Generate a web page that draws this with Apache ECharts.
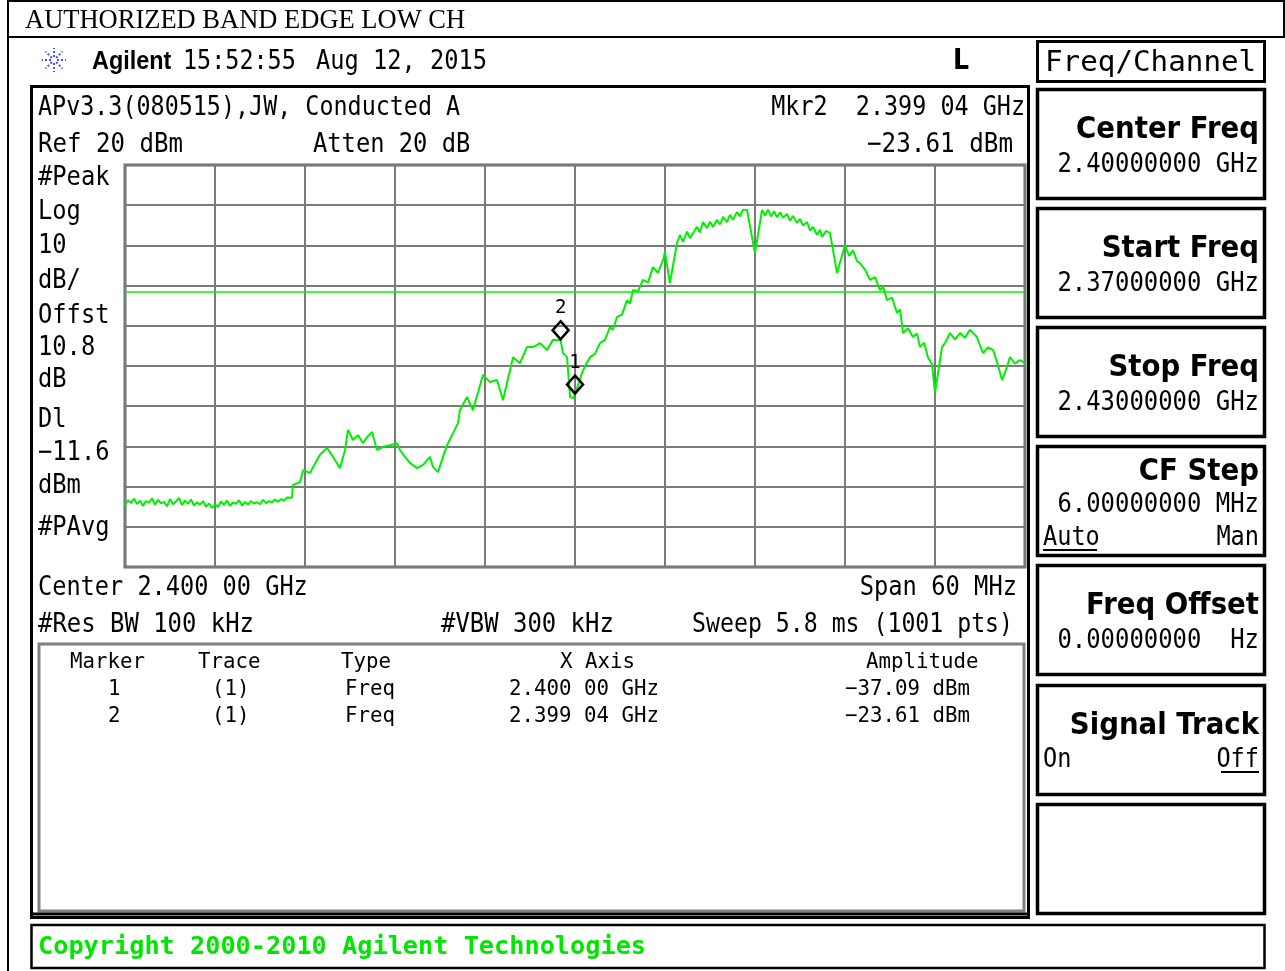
<!DOCTYPE html>
<html>
<head>
<meta charset="utf-8">
<script src="https://cdn.jsdelivr.net/npm/echarts@6/dist/echarts.min.js"></script>
<style>
html,body{margin:0;padding:0;background:#fff;}
#chart{width:1285px;height:971px;}
</style>
</head>
<body>
<div id="chart"></div>
<script>
// ---- Data (frequency in MHz, level in dBm) ----
const freqMHz = [
2370.0,2370.2,2370.4,2370.6,2370.8,2371.0,2371.2,2371.4,2371.6,2371.8,
2372.0,2372.2,2372.4,2372.6,2372.8,2373.0,2373.2,2373.4,2373.6,2373.8,
2374.0,2374.2,2374.4,2374.6,2374.8,2375.0,2375.2,2375.4,2375.6,2375.8,
2376.0,2376.2,2376.4,2376.6,2376.8,2377.0,2377.2,2377.4,2377.6,2377.8,
2378.0,2378.2,2378.4,2378.6,2378.8,2379.0,2379.2,2379.4,2379.6,2379.8,
2380.0,2380.2,2380.4,2380.6,2380.8,
2381.13,2381.20,2381.67,2381.87,2382.33,2382.80,2383.00,2383.47,2383.87,2384.33,
2384.67,2384.87,2385.20,2385.53,2385.87,2386.13,2386.47,2386.80,2387.20,2387.67,
2388.13,2388.33,2388.67,2389.00,2389.47,2389.87,2390.33,2390.53,2390.87,2391.20,
2391.47,2391.87,2392.20,2392.33,2392.80,2393.20,2393.87,2394.33,2394.80,2395.20,
2395.87,2396.33,2396.80,2397.20,2397.67,2398.13,2398.53,2399.04,2399.20,2399.47,
2399.67,2399.87,2400.00,2400.47,2400.73,2401.00,2401.33,2401.67,2402.00,2402.33,
2402.53,2402.80,2403.13,2403.47,2403.67,2403.87,2404.20,2404.53,2404.87,2405.20,
2405.53,2405.87,2406.00,2406.33,2406.80,2407.00,2407.20,2407.47,2407.67,2407.87,
2408.13,2408.33,2408.53,2408.80,2409.00,2409.20,2409.47,2409.67,2409.87,2410.13,
2410.33,2410.53,2410.80,2411.00,2411.20,2411.47,2412.00,2412.47,2412.67,2412.87,
2413.07,2413.27,2413.47,2413.67,2413.87,2414.13,2414.33,2414.53,2414.80,2415.00,
2415.20,2415.47,2415.67,2415.87,2416.13,2416.33,2416.47,2416.73,2417.00,2417.47,
2418.00,2418.27,2418.53,2418.80,2419.00,2419.33,2419.67,2420.00,2420.33,2420.53,
2420.80,2421.13,2421.47,2421.67,2421.87,2422.20,2422.53,2422.80,2423.00,2423.27,
2423.53,2423.80,2424.00,2424.47,2424.73,2425.00,2425.33,2425.67,2426.00,2426.33,
2426.80,2427.00,2427.20,2427.53,2427.87,2428.13,2428.47,2428.73,2429.00,2429.33,
2429.67,2430.00
];
const levelDbm = [
-64.6,-63.4,-64.1,-63.0,-64.3,-63.5,-64.8,-63.6,-64.0,-62.9,
-64.5,-63.3,-64.2,-63.8,-64.9,-63.1,-64.4,-63.7,-62.8,-64.6,
-63.5,-64.3,-63.2,-64.7,-63.9,-64.5,-63.6,-65.0,-64.2,-65.3,
-64.4,-65.1,-63.7,-64.6,-63.5,-64.8,-63.9,-64.3,-63.4,-64.7,
-63.8,-64.5,-63.6,-64.2,-63.9,-64.4,-63.3,-64.1,-63.6,-63.9,
-63.2,-63.8,-63.1,-63.5,-62.7,
-62.8,-59.6,-58.9,-55.9,-56.6,-53.4,-52.1,-50.4,-52.6,-55.4,
-50.9,-45.9,-48.4,-47.2,-49.2,-47.7,-46.4,-50.9,-50.1,-49.7,
-49.2,-50.9,-52.6,-54.1,-55.4,-54.6,-52.6,-55.1,-56.4,-52.6,
-49.7,-46.7,-44.2,-41.0,-37.7,-41.0,-32.2,-34.0,-33.5,-38.5,
-27.8,-29.3,-25.3,-25.3,-24.3,-26.0,-23.5,-23.61,-26.8,-27.8,
-37.7,-38.0,-37.09,-31.7,-29.6,-27.8,-27.0,-24.3,-23.5,-20.3,
-21.0,-17.8,-17.2,-13.6,-14.5,-11.1,-11.5,-8.6,-9.2,-5.4,
-6.8,-3.6,-1.6,-9.4,0.6,2.6,0.9,3.4,1.8,3.1,
4.6,3.2,5.8,4.3,5.9,4.6,6.4,5.2,7.1,5.8,
7.6,6.4,8.3,7.2,8.9,8.8,-1.9,8.8,7.4,8.9,
7.2,8.5,7.0,8.2,6.9,7.8,6.2,7.3,5.6,6.6,
4.9,5.8,3.7,4.6,2.6,3.9,2.1,3.6,3.1,-6.9,
0.1,-2.6,-1.2,-3.9,-4.4,-6.0,-8.6,-7.9,-11.1,-10.2,
-13.6,-13.0,-16.8,-15.9,-21.8,-20.6,-22.8,-21.9,-25.3,-24.2,
-27.8,-29.5,-36.7,-25.3,-23.9,-21.8,-23.4,-21.8,-23.0,-21.0,
-22.8,-24.9,-26.8,-25.4,-26.0,-28.9,-33.5,-31.0,-27.8,-29.4,
-28.5,-29.3
];
const markerNames = ['1', '2'];
const markerFreqMHz = [2400.00, 2399.04];
const markerLevelDbm = [-37.09, -23.61];
const displayLineDbm = -11.6;
const startMHz = 2370, stopMHz = 2430, freqDivMHz = 6;
const refDbm = 20, bottomDbm = -80, dbPerDiv = 10;

// ---- Text helpers ----
const MONO = '"DejaVu Sans Mono", monospace';
const SANS = '"DejaVu Sans", sans-serif';
function T(x, y, text, o) {
  o = o || {};
  const size = o.size || 27;
  const fam = o.family || MONO;
  const weight = o.weight || 'normal';
  let sx = o.sx;
  if (sx == null && o.adv) sx = o.adv / (0.602 * size);
  const al = o.align || 'left';
  const dy = o.dy == null ? 2 : o.dy;
  return {
    type: 'text', x: x, y: y + dy, scaleX: sx || 1, scaleY: 1, silent: true, z: 10,
    style: {
      text: text, font: weight + ' ' + size + 'px ' + fam, fill: o.color || '#000',
      textAlign: al, align: al, textVerticalAlign: 'middle', verticalAlign: 'middle'
    }
  };
}
function L(x1, y1, x2, y2, w, c) {
  return { type: 'line', silent: true, z: 5, shape: { x1, y1, x2, y2 }, style: { stroke: c || '#000', lineWidth: w || 2 } };
}
function R(x, y, w, h, lw, c) {
  return { type: 'rect', silent: true, z: 5, shape: { x, y, width: w, height: h }, style: { fill: 'none', stroke: c || '#000', lineWidth: lw || 3 } };
}

const G = [];
// page frame and title
G.push(L(8, 1, 1285, 1, 2));
G.push(L(8, 0, 8, 971, 2));
G.push(L(8, 37, 1285, 37, 2));
G.push(L(1284, 0, 1284, 37, 2));
G.push(T(25, 21, 'AUTHORIZED BAND EDGE LOW CH', { size: 26.5, dy: 0, family: '"Liberation Serif", "Times New Roman", serif' }));

// logo starburst
for (let i = 0; i < 8; i++) {
  const a = i * Math.PI / 4;
  G.push({ type: 'line', silent: true, shape: { x1: 54 + 3 * Math.cos(a), y1: 60 + 3 * Math.sin(a), x2: 54 + 12 * Math.cos(a), y2: 60 + 12 * Math.sin(a) },
    style: { stroke: '#3a4cff', lineWidth: 2, lineDash: [2, 2] } });
}
G.push(T(92, 60, 'Agilent', { size: 26, family: '"Liberation Sans", Arial, sans-serif', weight: 'bold', sx: 0.9 }));
G.push(T(183, 60, '15:52:55', { adv: 14.1 }));
G.push(T(316, 60, 'Aug 12, 2015', { adv: 14.25 }));
G.push(T(953, 60, 'L', { size: 28, family: SANS, weight: 'bold', sx: 0.9 }));

// main screen box
G.push(R(31.5, 86.5, 997, 831, 3));
G.push(T(38, 106, 'APv3.3(080515),JW, Conducted A', { adv: 14.07 }));
G.push(T(1025, 106, 'Mkr2  2.399 04 GHz', { adv: 14.1, align: 'right' }));
G.push(T(38, 143, 'Ref 20 dBm', { adv: 14.5 }));
G.push(T(313, 143, 'Atten 20 dB', { adv: 14.3 }));
G.push(T(1013, 143, '\u221223.61 dBm', { adv: 14.6, align: 'right' }));

const leftCol = [['#Peak', 176], ['Log', 210], ['10', 244], ['dB/', 279], ['Offst', 314], ['10.8', 346], ['dB', 378], ['Dl', 418], ['\u221211.6', 451], ['dBm', 484], ['#PAvg', 526]];
leftCol.forEach(function (p) { G.push(T(38, p[1], p[0], { adv: 14.3 })); });

G.push(T(38, 586, 'Center 2.400 00 GHz', { adv: 14.2 }));
G.push(T(1017, 586, 'Span 60 MHz', { adv: 14.3, align: 'right' }));
G.push(T(38, 623, '#Res BW 100 kHz', { adv: 14.4 }));
G.push(T(441, 623, '#VBW 300 kHz', { adv: 14.4 }));
G.push(T(1013, 623, 'Sweep 5.8 ms (1001 pts)', { adv: 13.95, align: 'right' }));

// marker table
G.push(R(39, 644, 985, 267, 3, '#808080'));
G.push(L(31, 914, 1029, 914, 3));
function TT(x, y, s, al) { return T(x, y, s, { size: 21, adv: 12.5, align: al || 'left' }); }
G.push(TT(70, 661, 'Marker'));
G.push(TT(198, 661, 'Trace'));
G.push(TT(341, 661, 'Type'));
G.push(TT(560, 661, 'X Axis'));
G.push(TT(866, 661, 'Amplitude'));
const fmtF = function (mhz) { const g = (mhz / 1000).toFixed(5); return g.slice(0, 5) + ' ' + g.slice(5) + ' GHz'; };
markerNames.forEach(function (n, i) {
  const y = 688 + 27 * i;
  G.push(TT(108, y, n));
  G.push(TT(212, y, '(1)'));
  G.push(TT(345, y, 'Freq'));
  G.push(TT(659, y, fmtF(markerFreqMHz[i]), 'right'));
  G.push(TT(970, y, '\u2212' + Math.abs(markerLevelDbm[i]).toFixed(2) + ' dBm', 'right'));
});

// right soft-key panel
G.push(R(1037.5, 41.5, 227, 40, 3));
G.push(T(1045, 61, 'Freq/Channel', { size: 29, adv: 17.6 }));
const keys = [
  [88, 'Center Freq', '2.40000000 GHz'],
  [207, 'Start Freq', '2.37000000 GHz'],
  [326, 'Stop Freq', '2.43000000 GHz'],
  [445, 'CF Step', '6.00000000 MHz'],
  [564, 'Freq Offset', '0.00000000  Hz'],
  [684, 'Signal Track', null],
  [803, null, null]
];
keys.forEach(function (k) {
  const y0 = k[0];
  G.push(R(1037.5, y0 + 1.5, 227, 109, 3.5));
  if (k[1]) G.push(T(1259, y0 + (k[1] === 'CF Step' ? 25 : 40), k[1], { size: 30, family: SANS, weight: 'bold', sx: 0.92, align: 'right' }));
  if (k[2]) G.push(T(1259, y0 + (k[1] === 'CF Step' ? 58 : 75), k[2], { adv: 14.4, align: 'right' }));
});
G.push(T(1043, 536, 'Auto', { adv: 14.2 }));
G.push(L(1043, 550, 1097, 550, 2));
G.push(T(1259, 536, 'Man', { adv: 14.2, align: 'right' }));
G.push(T(1043, 758, 'On', { adv: 14.2 }));
G.push(T(1259, 758, 'Off', { adv: 14.2, align: 'right' }));
G.push(L(1221, 772, 1259, 772, 2));

// copyright bar
G.push(R(31.5, 925, 1233, 43, 2.5));
G.push(T(38, 947, 'Copyright 2000-2010 Agilent Technologies', { size: 25, weight: 'bold', adv: 15.2, color: '#00e600', dy: 0 }));

// ---- chart ----
const traceData = freqMHz.map(function (f, i) { return [f, levelDbm[i]]; });
const markerData = markerFreqMHz.map(function (f, i) { return { name: markerNames[i], value: [f, markerLevelDbm[i]] }; });

const chart = echarts.init(document.getElementById('chart'), null, { renderer: 'canvas' });
chart.setOption({
  animation: false,
  backgroundColor: '#fff',
  grid: { left: 125, top: 165, width: 900, height: 402, show: true, borderColor: '#6a6a6a', borderWidth: 3, backgroundColor: 'transparent' },
  xAxis: {
    type: 'value', min: startMHz, max: stopMHz, interval: freqDivMHz,
    axisLabel: { show: false }, axisTick: { show: false }, axisLine: { show: false },
    splitLine: { show: true, lineStyle: { color: '#7a7a7a', width: 2 } }
  },
  yAxis: {
    type: 'value', min: bottomDbm, max: refDbm, interval: dbPerDiv,
    axisLabel: { show: false }, axisTick: { show: false }, axisLine: { show: false },
    splitLine: { show: true, lineStyle: { color: '#7a7a7a', width: 2 } }
  },
  graphic: G,
  series: [
    {
      type: 'line', data: traceData, showSymbol: false, symbol: 'none', z: 3,
      lineStyle: { color: '#00f000', width: 2 },
      markLine: {
        silent: true, symbol: 'none', label: { show: false },
        lineStyle: { color: '#00f000', width: 1.6, type: 'solid' },
        data: [{ yAxis: displayLineDbm }]
      }
    },
    {
      type: 'scatter', data: markerData, symbol: 'diamond', symbolSize: [16, 18], symbolOffset: [0, -10], z: 4,
      itemStyle: { color: 'rgba(0,0,0,0)', borderColor: '#000', borderWidth: 2.5, opacity: 1 },
      label: { show: true, position: 'top', distance: 2, formatter: '{b}', color: '#000', fontFamily: 'DejaVu Sans Mono', fontSize: 19 }
    }
  ]
});
</script>
</body>
</html>
